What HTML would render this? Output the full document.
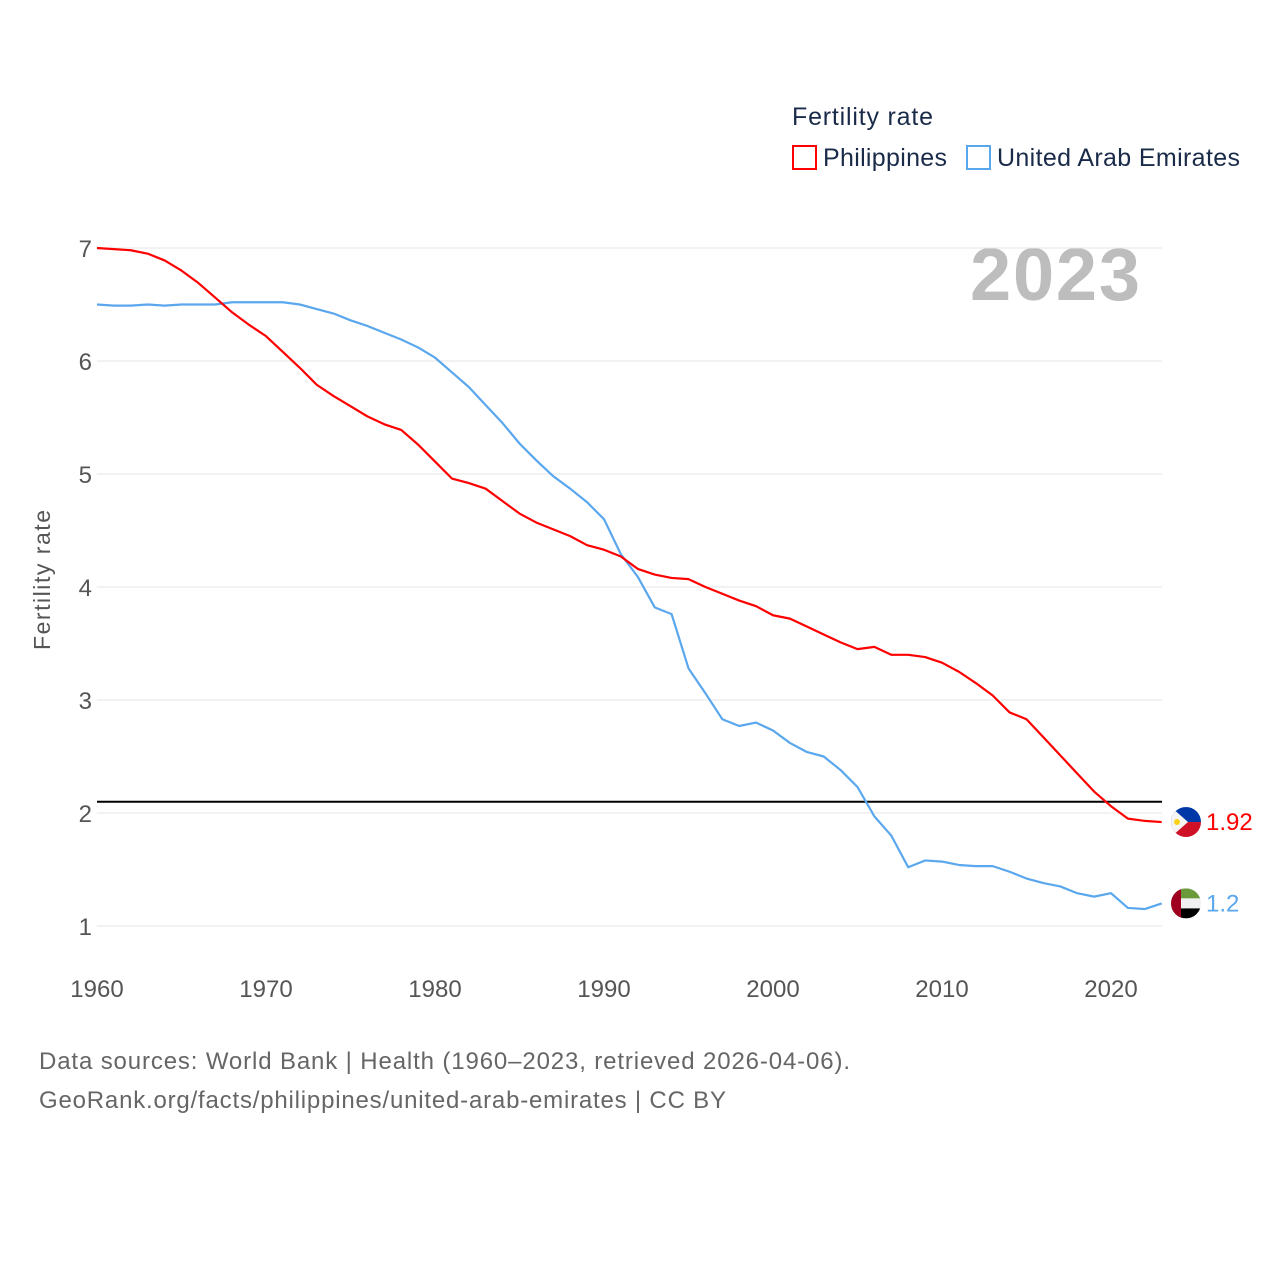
<!DOCTYPE html>
<html><head><meta charset="utf-8">
<style>
body{margin:0;background:#fff;width:1280px;height:1280px;overflow:hidden;font-family:"Liberation Sans",sans-serif}
svg{display:block}
</style></head>
<body>
<svg id="chart" width="1280" height="1280" xmlns="http://www.w3.org/2000/svg" font-family="Liberation Sans, sans-serif">
<text x="792" y="125" font-size="25" fill="#1a2b4a" textLength="141">Fertility rate</text>
<g>
<rect x="793" y="146" width="23" height="23" fill="none" stroke="#ff0000" stroke-width="2"/>
<text x="823" y="166" font-size="25" fill="#1a2b4a" textLength="124">Philippines</text></g>
<g>
<rect x="967" y="146" width="23" height="23" fill="none" stroke="#5aa7ee" stroke-width="2"/>
<text x="997" y="166" font-size="25" fill="#1a2b4a" textLength="243">United Arab Emirates</text></g>
<text x="1140" y="300" font-size="74" font-weight="bold" fill="#bdbdbd" text-anchor="end" textLength="170">2023</text>
<text transform="translate(50,580) rotate(-90)" font-size="23" fill="#555" text-anchor="middle" textLength="140">Fertility rate</text>
<g id="grid"></g><g id="series"></g>
<text x="39" y="1069" font-size="24" fill="#666" textLength="811">Data sources: World Bank | Health (1960–2023, retrieved 2026-04-06).</text>
<text x="39" y="1108" font-size="24" fill="#666" textLength="687">GeoRank.org/facts/philippines/united-arab-emirates | CC BY</text>
</svg>
<script>
const years=[];for(let y=1960;y<=2023;y++)years.push(y);
const philippines=[7.00,6.99,6.98,6.95,6.89,6.80,6.69,6.56,6.43,6.32,6.22,6.08,5.94,5.79,5.69,5.60,5.51,5.44,5.39,5.26,5.11,4.96,4.92,4.87,4.76,4.65,4.57,4.51,4.45,4.37,4.33,4.27,4.16,4.11,4.08,4.07,4.00,3.94,3.88,3.83,3.75,3.72,3.65,3.58,3.51,3.45,3.47,3.40,3.40,3.38,3.33,3.25,3.15,3.04,2.89,2.83,2.67,2.51,2.35,2.19,2.06,1.95,1.93,1.92];
const uae=[6.50,6.49,6.49,6.50,6.49,6.50,6.50,6.50,6.52,6.52,6.52,6.52,6.50,6.46,6.42,6.36,6.31,6.25,6.19,6.12,6.03,5.90,5.77,5.61,5.45,5.27,5.12,4.98,4.87,4.75,4.60,4.29,4.09,3.82,3.76,3.28,3.06,2.83,2.77,2.80,2.73,2.62,2.54,2.50,2.38,2.23,1.97,1.80,1.52,1.58,1.57,1.54,1.53,1.53,1.48,1.42,1.38,1.35,1.29,1.26,1.29,1.16,1.15,1.20];
const yTicks=[1,2,3,4,5,6,7];
const xTicks=[1960,1970,1980,1990,2000,2010,2020];
const replacement=2.1;
const X=y=>97+(y-1960)*(1014/60);
const Y=v=>926-(v-1)*113;
const NS="http://www.w3.org/2000/svg";
function mk(tag,attrs,parent){const e=document.createElementNS(NS,tag);for(const k in attrs)e.setAttribute(k,attrs[k]);parent.appendChild(e);return e;}
const grid=document.getElementById('grid'),ser=document.getElementById('series');
yTicks.forEach(t=>{
 const l=mk('line',{x1:97,x2:1162,y1:Y(t),y2:Y(t),stroke:'#e6e6e6','stroke-width':1},grid);
 
 
 const tx=mk('text',{x:92,y:Y(t)+9,'font-size':24,fill:'#555','text-anchor':'end'},grid);tx.textContent=t;
 
 
});
xTicks.forEach(t=>{
 const tx=mk('text',{x:X(t),y:997,'font-size':24,fill:'#555','text-anchor':'middle'},grid);tx.textContent=t;
 
 
});
const rl=mk('line',{x1:97,x2:1162,y1:Y(replacement),y2:Y(replacement),stroke:'#000','stroke-width':2},ser);


function line(vals,color,name){
 const p=mk('polyline',{points:vals.map((v,i)=>X(years[i])+','+Y(v)).join(' '),fill:'none',stroke:color,'stroke-width':2.2,'stroke-linejoin':'round'},ser);
 
 
}
line(uae,'#5aa7ee','uae-line');
line(philippines,'#ff0000','philippines-line');
function flag(v,name,parts,label,color){
 const cx=1186,cy=Y(v);
 const g=mk('g',{},ser);
 
 
 const id='c'+name;
 const cp=mk('clipPath',{id:id},g);mk('circle',{cx:cx,cy:cy,r:15},cp);
 const gg=mk('g',{'clip-path':'url(#'+id+')'},g);
 parts(gg,cx,cy);
 const t=mk('text',{x:1206,y:cy+8,'font-size':24,fill:color},g);t.textContent=label;
}
flag(philippines[63],'philippines-flag',(g,cx,cy)=>{
 mk('rect',{x:cx-15,y:cy-15,width:30,height:15,fill:'#0038a8'},g);
 mk('rect',{x:cx-15,y:cy,width:30,height:15,fill:'#ce1126'},g);
 mk('polygon',{points:`${cx-15},${cy-15} ${cx+2},${cy} ${cx-15},${cy+15}`,fill:'#f5f5f5'},g);
 mk('circle',{cx:cx-9,cy:cy,r:3,fill:'#fcd116'},g);
},'1.92','#ff0000');
flag(uae[63],'uae-flag',(g,cx,cy)=>{
 mk('rect',{x:cx-15,y:cy-15,width:30,height:10,fill:'#6a9a3a'},g);
 mk('rect',{x:cx-15,y:cy-5,width:30,height:10,fill:'#f0f0f0'},g);
 mk('rect',{x:cx-15,y:cy+5,width:30,height:10,fill:'#000'},g);
 mk('rect',{x:cx-15,y:cy-15,width:10,height:30,fill:'#a00020'},g);
},'1.2','#5aa7ee');
</script>
</body></html>
